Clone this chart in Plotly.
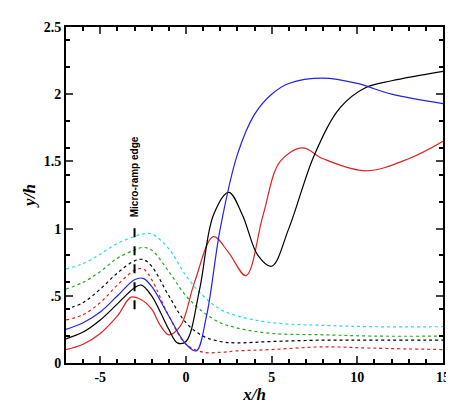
import plotly.graph_objects as go

# x positions of sampled points, per curve
x_blue = [-7, -6, -5, -4, -3, -2.5, -2, -1, 0, 0.6, 1.2, 2, 3, 4, 5, 6, 8, 10, 12, 15]
y_blue = [0.25, 0.3, 0.38, 0.5, 0.62, 0.63, 0.57, 0.35, 0.14, 0.09, 0.35, 1.0, 1.55, 1.85, 2.0, 2.08, 2.12, 2.08, 2.0, 1.93]

x_black = [-7, -6, -5, -4, -3, -2.6, -2, -1, -0.5, 0, 0.8, 1.6, 2.5, 3.3, 4.2, 5, 6, 7.5, 9, 10.5, 12, 15]
y_black = [0.18, 0.23, 0.32, 0.44, 0.56, 0.58, 0.5, 0.25, 0.15, 0.16, 0.55, 1.1, 1.27, 1.1, 0.8, 0.72, 1.0, 1.55, 1.9, 2.05, 2.1, 2.17]

x_red = [-7, -6, -5, -4, -3.2, -2.6, -2, -1.5, -1, -0.3, 0.5, 1.6, 2.5, 3.5, 4.5, 5.5, 6.8, 8, 10.5, 13, 15]
y_red = [0.1, 0.14, 0.22, 0.35, 0.49, 0.47, 0.4, 0.28, 0.21, 0.28, 0.6, 0.94, 0.82, 0.65, 1.1, 1.5, 1.6, 1.52, 1.43, 1.52, 1.65]

x_dot = [-7, -6, -5, -4, -3, -2.5, -2, -1, 0, 1, 2, 3, 5, 8, 11, 15]
y_red_dot = [0.32, 0.36, 0.45, 0.58, 0.69, 0.7, 0.62, 0.35, 0.14, 0.08, 0.08, 0.09, 0.1, 0.12, 0.11, 0.1]
y_black_dot = [0.4, 0.45, 0.55, 0.67, 0.76, 0.77, 0.72, 0.5, 0.3, 0.2, 0.16, 0.15, 0.16, 0.17, 0.17, 0.17]
y_green_dot = [0.55, 0.6, 0.68, 0.78, 0.84, 0.86, 0.84, 0.68, 0.5, 0.38, 0.3, 0.26, 0.22, 0.21, 0.2, 0.2]
y_cyan_dot = [0.7, 0.74, 0.81, 0.89, 0.94, 0.96, 0.96, 0.85, 0.65, 0.5, 0.4, 0.35, 0.3, 0.28, 0.27, 0.27]

fig = go.Figure()
for x, y, c, d in [
    (x_dot, y_cyan_dot, "#22dddd", "dot"),
    (x_dot, y_green_dot, "#22aa22", "dot"),
    (x_dot, y_black_dot, "black", "dot"),
    (x_dot, y_red_dot, "#dd2222", "dot"),
    (x_red, y_red, "#dd2222", "solid"),
    (x_black, y_black, "black", "solid"),
    (x_blue, y_blue, "#2222ee", "solid"),
]:
    fig.add_trace(go.Scatter(x=x, y=y, mode="lines",
                             line=dict(color=c, dash=d, width=1.2, shape="spline", smoothing=1.0),
                             showlegend=False))

# micro-ramp edge marker
fig.add_trace(go.Scatter(x=[-3, -3], y=[0.4, 1.02], mode="lines",
                         line=dict(color="black", dash="dash", width=2), showlegend=False))
fig.add_annotation(x=-3, y=1.07, yanchor="bottom", text="<b>Micro-ramp edge</b>", showarrow=False,
                   textangle=-90, font=dict(size=10, family="Arial", color="black"))

axis = dict(showline=True, linecolor="black", linewidth=2, mirror="ticks", ticks="inside",
            ticklen=7, tickwidth=2, showgrid=False, zeroline=False,
            tickfont=dict(family="Times New Roman, Liberation Serif", size=14, color="black"),
            minor=dict(ticks="inside", ticklen=4, tickcolor="black"))
fig.update_xaxes(range=[-7, 15], tickvals=[-5, 0, 5, 10, 15], ticktext=["<b>-5</b>", "<b>0</b>", "<b>5</b>", "<b>10</b>", "<b>15</b>"],
                 title=dict(text="<b><i>x/h</i></b>", standoff=4,
                            font=dict(family="Times New Roman, Liberation Serif", size=17, color="black")),
                 **axis)
fig.update_yaxes(range=[0, 2.5], tickvals=[0, 0.5, 1, 1.5, 2, 2.5], ticktext=["<b>0</b>", "<b>.5</b>", "<b>1</b>", "<b>1.5</b>", "<b>2</b>", "<b>2.5</b>"],
                 title=dict(text="<b><i>y/h</i></b>", standoff=4,
                            font=dict(family="Times New Roman, Liberation Serif", size=17, color="black")),
                 **axis)
fig.update_layout(width=454, height=405, plot_bgcolor="white", paper_bgcolor="white",
                  margin=dict(l=58, r=12, t=13, b=38))
fig.write_html("out.html")
